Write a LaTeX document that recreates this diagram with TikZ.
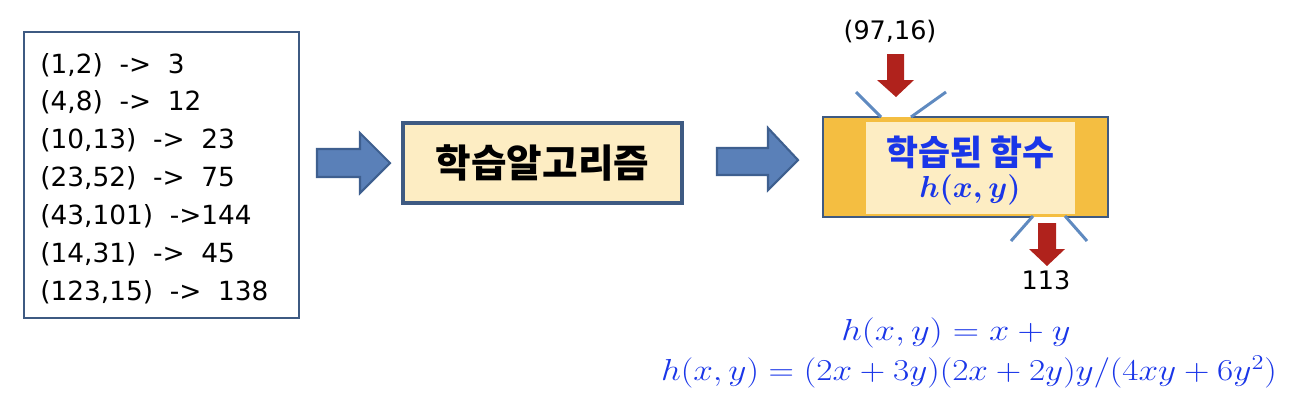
\documentclass[tikz,border=0pt]{standalone}
\usepackage{graphicx}
\usepackage{fontspec}
\setmainfont{DejaVu Sans}
\newfontfamily\kr{Noto Sans CJK KR}
\definecolor{boxline}{HTML}{3E5A82}
\definecolor{paleyel}{HTML}{FDEDC3}
\definecolor{gold}{HTML}{F4BE41}
\definecolor{arrfill}{HTML}{5A80B8}
\definecolor{arrline}{HTML}{3E5F8F}
\definecolor{rayblue}{HTML}{5F8AC0}
\definecolor{redarr}{HTML}{B0221C}
\definecolor{txtblue}{HTML}{1A36E8}
\tikzset{
  listtxt/.style={anchor=base west, inner sep=0, font=\fontsize{15}{17}\selectfont},
  plaintxt/.style={inner sep=0, font=\fontsize{14.5}{16}\selectfont},
  blockarrow/.style={fill=arrfill, draw=arrline, line width=1.2pt, line join=miter},
  redblock/.style={fill=redarr, draw=none},
  ray/.style={draw=rayblue, line width=1.7pt},
  formula/.style={inner sep=0, text=txtblue, font=\fontsize{17}{20}\selectfont},
}
\begin{document}
\begin{tikzpicture}[x=0.02cm, y=-0.02cm]
\useasboundingbox (0,0) rectangle (1290,410);
% data box
\node[draw=boxline, line width=1.1pt, fill=white, minimum width=5.5cm, minimum height=5.72cm, inner sep=0] (data) at (161.5,175) {};
\node[listtxt] (l1) at (40,73) {(1,2)\ \ ->\ \ 3};
\node[listtxt] (l2) at (40,110.8) {(4,8)\ \ ->\ \ 12};
\node[listtxt] (l3) at (40,148.7) {(10,13)\ \ ->\ \ 23};
\node[listtxt] (l4) at (40,186.5) {(23,52)\ \ ->\ \ 75};
\node[listtxt] (l5) at (40,224.3) {(43,101)\ \ ->144};
\node[listtxt] (l6) at (40,262.2) {(14,31)\ \ ->\ \ 45};
\node[listtxt] (l7) at (40,300) {(123,15)\ \ ->\ \ 138};
% arrow 1
\path[blockarrow] (317,149) -- (360,149) -- (360,133) -- (390,163) -- (360,193) -- (360,177) -- (317,177) -- cycle;
% algorithm box
\node[draw=boxline, line width=2.3pt, fill=paleyel, minimum width=5.58cm, minimum height=1.6cm, inner sep=0, font=\kr\bfseries\fontsize{22}{26}\selectfont] (algo) at (542.5,163) {학습알고리즘};
% arrow 2
\path[blockarrow] (717,148) -- (768,148) -- (768,128) -- (798,160) -- (768,190) -- (768,175) -- (717,175) -- cycle;
% function box
\node[fill=gold, minimum width=5.7cm, minimum height=2cm, inner sep=0] (func) at (965.5,167) {};
\node[fill=paleyel, minimum width=4.18cm, minimum height=1.84cm, inner sep=0] (inner) at (970.5,168) {};
\draw[draw=boxline, line width=1.2pt] (881,117) -- (823,117) -- (823,217) -- (1033,217)
  (1065,217) -- (1108,217) -- (1108,117) -- (911,117);
\node[inner sep=0, text=txtblue, font=\kr\bfseries\fontsize{19.8}{22}\selectfont] (ftitle) at (970,152) {학습된 함수};
\node[inner sep=0, text=txtblue, font={\fontsize{17}{20}\selectfont\boldmath}] (fh) at (970,190) {$h(x,y)$};
% rays
\draw[ray] (856,92) -- (881,117);
\draw[ray] (911,117) -- (946,92);
\draw[ray] (1033,216) -- (1011,241);
\draw[ray] (1065,216) -- (1087,241);
% input / output
\node[plaintxt] (inp) at (890,32) {(97,16)};
\node[plaintxt] (outp) at (1046,280) {113};
\path[redblock] (887,54) -- (904,54) -- (904,80) -- (914,80) -- (896,97) -- (877,80) -- (887,80) -- cycle;
\path[redblock] (1038,223) -- (1056,223) -- (1056,249) -- (1065,249) -- (1047,266) -- (1029,249) -- (1038,249) -- cycle;
% formulas
\node[formula] (f1) at (956,333) {\scalebox{1.2}[1]{$h(x,y)=x+y$}};
\node[formula] (f2) at (969,372) {\scalebox{1.16}[1]{$h(x,y)=(2x+3y)(2x+2y)y/(4xy+6y^2)$}};
\end{tikzpicture}
\end{document}
